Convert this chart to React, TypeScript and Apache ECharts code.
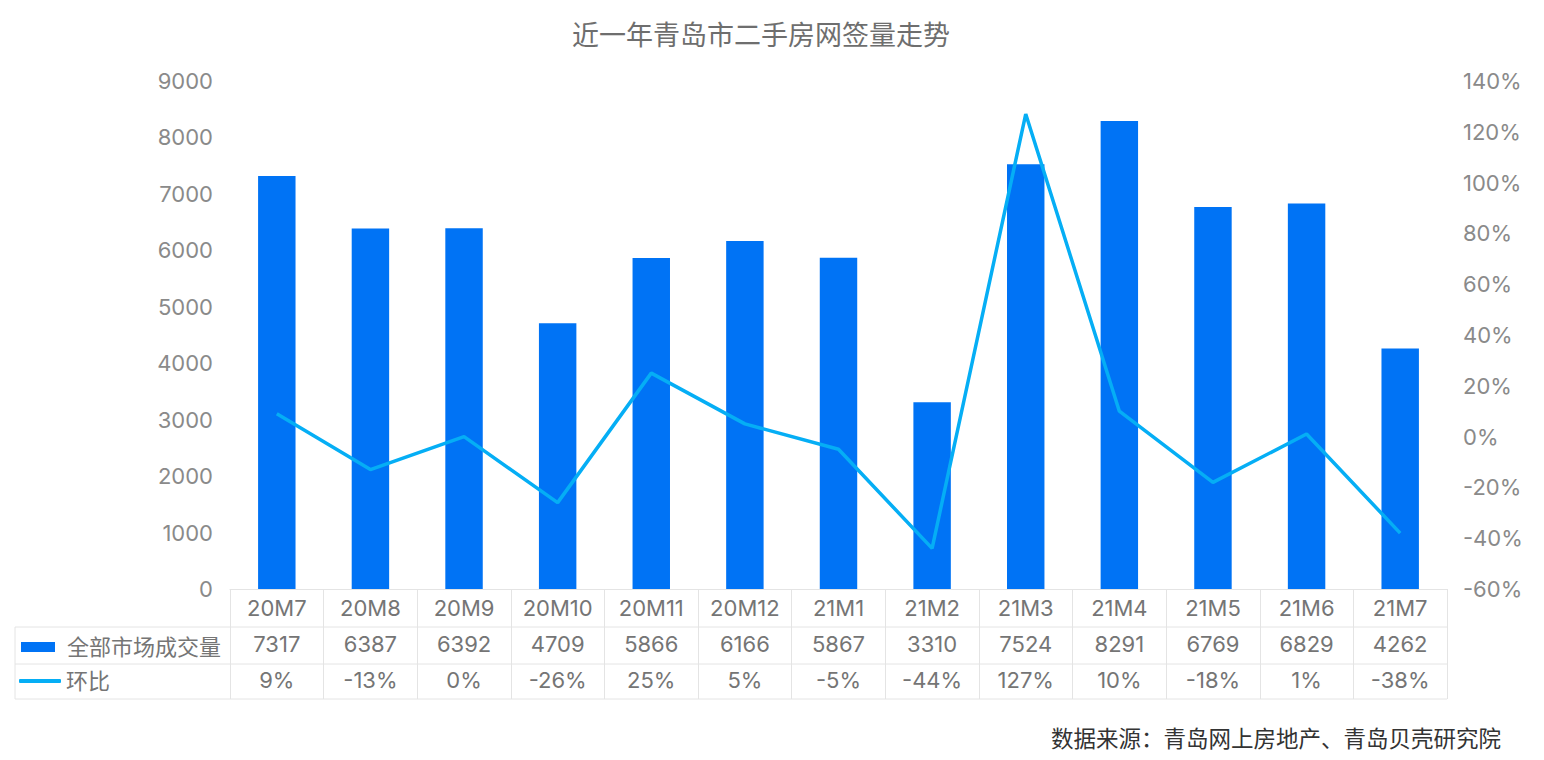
import React, { useEffect, useRef } from "react";
import * as echarts from "echarts";

const categories = ["20M7", "20M8", "20M9", "20M10", "20M11", "20M12", "21M1", "21M2", "21M3", "21M4", "21M5", "21M6", "21M7"];
const sales = [7317, 6387, 6392, 4709, 5866, 6166, 5867, 3310, 7524, 8291, 6769, 6829, 4262];
const mom = [9, -13, 0, -26, 25, 5, -5, -44, 127, 10, -18, 1, -38];
const barName = "全部市场成交量";
const lineName = "环比";
const titleText = "近一年青岛市二手房网签量走势";
const sourceText = "数据来源：青岛网上房地产、青岛贝壳研究院";

const FONT = "Inter, 'Noto Sans CJK SC', sans-serif";
const GRID_L = 230;
const GRID_R = 1447;
const GRID_T = 81;
const GRID_B = 589;
const ROW1 = 627;
const ROW2 = 664;
const ROW3 = 699;
const LINE_C = "#e4e4e4";
const TABLE_TXT = "#757575";
const AXIS_TXT = "#8a8a8a";

export default function App() {
  const ref = useRef<HTMLDivElement>(null);
  useEffect(() => {
    if (!ref.current) return;
    const chart = echarts.init(ref.current, null, { renderer: "svg" });
    const hline = (y: number, x1: number, x2: number) => ({
      type: "line",
      shape: { x1, y1: y, x2, y2: y },
      style: { stroke: LINE_C, lineWidth: 1 },
      silent: true,
    });
    chart.setOption({
      animation: false,
      textStyle: { fontFamily: FONT },
      title: {
        text: titleText,
        left: 572,
        top: 22,
        padding: 0,
        textStyle: { fontSize: 27, fontWeight: "normal", color: "#6e6e6e", fontFamily: FONT },
      },
      legend: [
        {
          data: [{ name: barName, icon: "rect" }],
          left: 21,
          top: 636,
          padding: 0,
          itemWidth: 34,
          itemHeight: 10,
          textStyle: { fontSize: 22, color: TABLE_TXT, fontFamily: FONT, padding: [0, 0, 0, 7] },
          selectedMode: false,
        },
        {
          data: [{ name: lineName, icon: "roundRect" }],
          left: 19,
          top: 670,
          padding: 0,
          itemWidth: 42,
          itemHeight: 4,
          textStyle: { fontSize: 22, color: TABLE_TXT, fontFamily: FONT },
          selectedMode: false,
        },
      ],
      grid: { left: GRID_L, right: 1544 - GRID_R, top: GRID_T, bottom: 760 - GRID_B, containLabel: false },
      xAxis: [
        {
          type: "category",
          data: categories,
          position: "bottom",
          axisLine: { show: true, lineStyle: { color: LINE_C, width: 1 } },
          axisTick: { show: true, length: ROW3 - GRID_B, lineStyle: { color: LINE_C, width: 1 } },
          axisLabel: { fontSize: 22, color: TABLE_TXT, margin: 8, fontFamily: FONT },
        },
        {
          type: "category",
          data: categories,
          position: "bottom",
          offset: ROW1 - GRID_B,
          axisLine: { show: false },
          axisTick: { show: false },
          axisLabel: {
            fontSize: 22,
            color: TABLE_TXT,
            margin: 6,
            fontFamily: FONT,
            formatter: (_v: string, i: number) => String(sales[i]),
          },
        },
        {
          type: "category",
          data: categories,
          position: "bottom",
          offset: ROW2 - GRID_B,
          axisLine: { show: false },
          axisTick: { show: false },
          axisLabel: {
            fontSize: 22,
            color: TABLE_TXT,
            margin: 5,
            fontFamily: FONT,
            formatter: (_v: string, i: number) => mom[i] + "%",
          },
        },
      ],
      yAxis: [
        {
          type: "value",
          min: 0,
          max: 9000,
          interval: 1000,
          splitLine: { show: false },
          axisLine: { show: false },
          axisTick: { show: false },
          axisLabel: {
            fontSize: 22,
            color: AXIS_TXT,
            margin: 17,
            fontFamily: FONT,
            formatter: (v: number) => String(v),
          },
        },
        {
          type: "value",
          min: -60,
          max: 140,
          interval: 20,
          position: "right",
          splitLine: { show: false },
          axisLine: { show: false },
          axisTick: { show: false },
          axisLabel: { fontSize: 22, color: AXIS_TXT, margin: 16, fontFamily: FONT, formatter: "{value}%" },
        },
      ],
      series: [
        {
          name: barName,
          type: "bar",
          data: sales,
          barWidth: "40%",
          itemStyle: { color: "#0073f5" },
          xAxisIndex: 0,
          yAxisIndex: 0,
        },
        {
          name: lineName,
          type: "line",
          data: mom,
          symbol: "none",
          lineStyle: { color: "#05aef5", width: 3.5 },
          itemStyle: { color: "#05aef5" },
          xAxisIndex: 0,
          yAxisIndex: 1,
        },
      ],
      graphic: [
        hline(ROW1, 15, GRID_R),
        hline(ROW2, 15, GRID_R),
        hline(ROW3, 15, GRID_R),
        {
          type: "line",
          shape: { x1: 15, y1: ROW1, x2: 15, y2: ROW3 },
          style: { stroke: LINE_C, lineWidth: 1 },
          silent: true,
        },
        {
          type: "text",
          x: 1501,
          y: 738,
          style: {
            text: sourceText,
            fill: "#333333",
            fontSize: 22.5,
            fontFamily: FONT,
            textAlign: "right",
            textVerticalAlign: "middle",
          },
        },
      ],
    });
    return () => chart.dispose();
  }, []);
  return (
    <div
      ref={ref}
      style={{ position: "fixed", left: 0, top: 0, width: 1544, height: 760, background: "#fff" }}
    />
  );
}
